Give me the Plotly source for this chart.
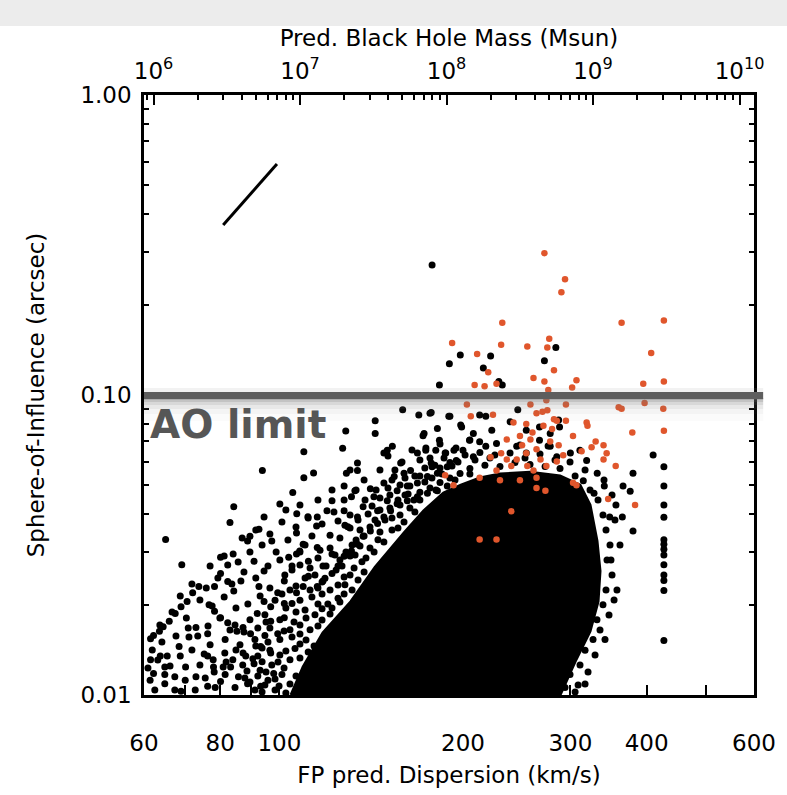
import math
import plotly.graph_objects as go

# ---------------- data ----------------
# black points: FP predicted dispersion (km/s) and sphere-of-influence (arcsec)
black_sigma = [178, 284, 198, 222, 190, 216, 272, 183, 229, 232,
               176.6, 190.4, 199, 213, 218, 246, 223, 208, 239, 254, 287, 205, 213,
               410, 380, 366, 376, 348, 365, 380,
               427, 427, 427, 427, 427, 427, 427, 427, 427, 427, 427, 427, 427,
               187, 200, 208, 218, 227, 245, 254, 267, 278, 285, 300, 311, 319, 332, 341, 328, 315,
               183, 195, 178, 288, 278, 267,
               128.5, 143.6, 143.6, 159.3, 169.3, 177.4, 189.6, 172.0, 109.7, 127.0,
               93.8, 109.7, 113.8, 128.8, 134.3, 105.2, 100.2, 84.2, 83.0, 65.1,
               69.2, 106.8, 111.4, 115.4, 119.7, 115.1, 150.3, 153.2, 148.4, 158.1,
               164.1, 168.4, 173.8, 180.5, 187.4, 193.3, 172.7, 181.6, 198.3, 134.3,
               127.7, 133.0, 131.3, 141.0, 142.9, 148.4, 154.3, 160.1, 156.0, 162.1,
               168.4, 174.9, 181.6, 188.5, 177.4, 127.7, 122.0, 124.8, 129.5, 134.3,
               137.2, 144.9, 150.3, 115.4, 109.4, 106.7, 111.6, 117.9, 122.0, 104.9,
               101.9, 99.4, 96.8, 94.4, 92.0, 90.9, 94.4, 92.6, 88.7, 89.5,
               92.6, 94.4, 97.2, 80.1, 84.0, 82.3, 80.1, 78.3, 82.3, 84.2,
               86.5, 73.8, 72.1, 70.6, 69.0, 67.5, 66.0, 64.5, 63.6, 62.2,
               61.5, 76.7, 78.3, 80.1, 82.3, 85.2, 87.2, 89.7, 76.3, 73.0,
               71.1, 68.5, 65.5, 63.8, 61.5, 62.2, 64.9, 67.4, 64.9, 70.2,
               73.0, 76.3, 78.0, 81.4, 83.2, 80.1, 85.7, 87.2, 90.9, 93.2,
               96.8, 88.7, 93.2, 97.9, 69.0, 76.3, 99.4, 96.8, 101.9, 104.9,
               106.7, 109.4, 111.6, 115.4, 117.9, 122.0, 124.8, 127.7, 131.3, 134.3,
               137.2, 141.0, 144.9, 148.4, 152.2, 156.0, 162.1, 168.4, 174.9, 181.6,
               188.5, 106.7, 108.0, 103.6, 101.9,
               # dense fringe around the core
               98.4, 95.8, 101.0, 93.0, 104.1, 100.2, 106.1, 96.5, 112.3, 108.1,
               114.4, 106.5, 117.5, 124.8, 121.1, 128.1, 118.8, 130.6, 123.9, 136.6,
               133.1, 140.8, 131.6, 145.1, 153.0, 149.0, 157.7, 146.2, 163.7, 166.2,
               160.7, 170.0, 176.6, 183.4, 190.4, 177.9, 197.8,
               205.3, 217.3, 230.0, 243.4, 257.6, 272.7, 288.5, 305.4,
               323.1, 333.0, 339.3, 343.2, 348.4, 344.5, 351.1, 343.2, 339.3, 331.7,
               326.8, 317.1, 311.1, 299.6, 294.0, 355.0, 361.8, 357.7, 341.9,
               61.4, 62.5, 64.9, 67.4, 70.1, 72.8, 75.6, 78.5, 81.5, 84.6,
               87.8, 91.2, 94.7, 74.1, 77.9, 80.9, 83.9, 87.1, 90.5, 93.7,
               97.2, 77.0, 81.5, 86.2, 91.2, 94.7, 100.2, 84.6, 89.5, 94.7,
               100.2, 104.1, 98.4, 104.1, 108.1, 112.3, 102.1, 108.1, 114.4, 116.6,
               123.4, 110.2, 121.1, 128.1, 135.6, 130.6, 138.2, 143.5, 151.8, 157.7,
               166.8, 154.7, 170.0, 179.9, 190.4, 201.6, 213.2,
               # semi-dense zone between the sparse outskirts and the core
               93.7, 99.9, 102.5, 89.5, 92.2, 98.4, 104.1, 88.5, 95.1, 101.8,
               106.5, 92.2, 99.5, 108.1, 93.7, 102.5, 108.1, 111.5, 95.8, 104.9,
               110.6, 114.0, 96.5, 101.8, 108.1, 115.7, 105.7, 110.6, 117.5, 121.1,
               102.5, 110.2, 115.7, 122.0, 125.7, 113.1, 117.5, 120.1, 127.7, 106.5,
               115.7, 124.8, 131.6, 110.2, 117.5, 127.7, 134.6, 112.3, 119.3, 126.7,
               132.6, 137.7, 115.7, 125.7, 130.6, 138.7, 121.1, 128.6, 135.6, 143.0,
               125.7, 133.6, 137.7, 148.4, 130.6, 140.8, 146.2, 156.5, 134.6, 139.8,
               153.0, 160.1, 141.9, 151.8, 157.7, 166.8, 146.2, 156.5, 162.6, 170.0,
               150.7, 163.7, 173.2, 180.6, 160.7, 170.0, 184.8, 194.1, 173.2, 183.4,
               191.9, 205.3, 176.6, 186.2, 196.3, 209.3, 221.4,
               340.6, 351.1, 356.3, 349.7, 353.8, 347.1, 335.5, 329.3, 320.7, 308.9,
               305.4, 317.1,
               # lower-left scatter and upper shoulder
               60.9, 63.2, 66.2, 68.8, 71.9, 75.3, 78.2, 81.8, 84.9, 88.1,
               91.5, 61.9, 64.2, 67.7, 70.9, 73.5, 76.4, 79.9, 83.0, 87.5,
               92.2, 95.1, 63.7, 66.7, 70.4, 74.1, 77.6, 81.2, 84.9, 88.8,
               93.0, 96.5, 101.0, 68.8, 71.9, 75.9, 79.3, 83.6, 87.5, 91.5,
               95.8, 100.2, 104.9, 77.0, 81.2, 85.6, 89.5, 93.7, 98.8, 103.3,
               108.1, 113.1, 86.9, 91.5, 96.5, 101.0, 106.5, 111.5, 117.5, 122.9,
               115.7, 127.7, 133.6, 122.0, 108.1, 102.5, 137.7, 144.1, 130.6, 146.2,
               153.0, 158.9, 165.0, 150.7, 173.9, 183.4, 194.8, 205.3,
               225.6, 238.9, 252.8, 267.5, 283.1, 299.6, 317.1, 248.0, 275.8]
black_soi = [0.271, 0.144, 0.136, 0.135, 0.127, 0.123, 0.130, 0.108, 0.111, 0.108,
             0.0870, 0.0849, 0.0782, 0.0858, 0.0849, 0.0893, 0.0763, 0.0744, 0.0814, 0.0763, 0.0825, 0.0706, 0.0698,
             0.0631, 0.0549, 0.0497, 0.0478, 0.0392, 0.0392, 0.0352,
             0.0577, 0.0497, 0.0430, 0.0391, 0.0329, 0.0318, 0.0306, 0.0293, 0.0272, 0.0251, 0.0241, 0.0223, 0.0152,
             0.0641, 0.0654, 0.0622, 0.0675, 0.0689, 0.0675, 0.0641, 0.0706, 0.0675, 0.0622, 0.0641, 0.0654, 0.0605, 0.0549, 0.0497, 0.0470, 0.0518,
             0.0706, 0.0605, 0.0577, 0.0782, 0.0744, 0.0782,
             0.0758, 0.0820, 0.0744, 0.0893, 0.0858, 0.0874, 0.0849, 0.0731, 0.0647, 0.0664,
             0.0560, 0.0530, 0.0550, 0.0549, 0.0593, 0.0473, 0.0433, 0.0424, 0.0376, 0.0330,
             0.0272, 0.0402, 0.0393, 0.0392, 0.0411, 0.0366, 0.0654, 0.0675, 0.0641, 0.0593,
             0.0560, 0.0641, 0.0654, 0.0654, 0.0641, 0.0654, 0.0744, 0.0774, 0.0794, 0.0560,
             0.0497, 0.0480, 0.0458, 0.0487, 0.0458, 0.0509, 0.0535, 0.0549, 0.0480, 0.0497,
             0.0509, 0.0535, 0.0549, 0.0577, 0.0593, 0.0411, 0.0444, 0.0380, 0.0364, 0.0392,
             0.0424, 0.0411, 0.0444, 0.0310, 0.0318, 0.0295, 0.0279, 0.0269, 0.0295, 0.0269,
             0.0240, 0.0219, 0.0197, 0.0205, 0.0187, 0.0279, 0.0259, 0.0230, 0.0326, 0.0338,
             0.0357, 0.0392, 0.0326, 0.0288, 0.0295, 0.0271, 0.0254, 0.0230, 0.0239, 0.0222,
             0.0240, 0.0230, 0.0219, 0.0205, 0.0197, 0.0187, 0.0176, 0.0169, 0.0163, 0.0158,
             0.0154, 0.0200, 0.0190, 0.0181, 0.0174, 0.0163, 0.0168, 0.0160, 0.0160, 0.0168,
             0.0156, 0.0145, 0.0135, 0.0135, 0.0131, 0.0118, 0.0124, 0.0115, 0.0109, 0.0124,
             0.0115, 0.0135, 0.0124, 0.0138, 0.0124, 0.0111, 0.0115, 0.0138, 0.0127, 0.0145,
             0.0138, 0.0109, 0.0107, 0.0118, 0.0103, 0.0107, 0.0160, 0.0176, 0.0181, 0.0202,
             0.0219, 0.0230, 0.0249, 0.0230, 0.0240, 0.0254, 0.0269, 0.0290, 0.0302, 0.0318,
             0.0338, 0.0352, 0.0373, 0.0392, 0.0411, 0.0434, 0.0444, 0.0458, 0.0470, 0.0480,
             0.0497, 0.0347, 0.0302, 0.0288, 0.0202,
             0.0104, 0.0112, 0.0117, 0.0121, 0.0131, 0.0136, 0.0143, 0.0141, 0.0165, 0.0171,
             0.0185, 0.0189, 0.0194, 0.0210, 0.0224, 0.0233, 0.0245, 0.0251, 0.0261, 0.0278,
             0.0293, 0.0309, 0.0316, 0.0329, 0.0355, 0.0383, 0.0398, 0.0414, 0.0420, 0.0447,
             0.0464, 0.0474, 0.0490, 0.0511, 0.0529, 0.0529, 0.0547,
             0.0569, 0.0583, 0.0578, 0.0596, 0.0587, 0.0578, 0.0569, 0.0537,
             0.0482, 0.0447, 0.0398, 0.0355, 0.0316, 0.0282, 0.0251, 0.0224, 0.0200, 0.0178,
             0.0153, 0.0141, 0.0126, 0.0117, 0.0106, 0.0383, 0.0316, 0.0224, 0.0153,
             0.0112, 0.0104, 0.0117, 0.0104, 0.0112, 0.0104, 0.0114, 0.0106, 0.0117, 0.0106,
             0.0114, 0.0104, 0.0108, 0.0126, 0.0131, 0.0124, 0.0131, 0.0126, 0.0132, 0.0129,
             0.0126, 0.0147, 0.0153, 0.0147, 0.0153, 0.0158, 0.0153, 0.0171, 0.0178, 0.0185,
             0.0178, 0.0165, 0.0207, 0.0224, 0.0207, 0.0224, 0.0251, 0.0271, 0.0251, 0.0304,
             0.0293, 0.0316, 0.0341, 0.0368, 0.0355, 0.0398, 0.0447, 0.0383, 0.0464, 0.0501,
             0.0537, 0.0562, 0.0607, 0.0583, 0.0596, 0.0631, 0.0643,
             0.01023, 0.01072, 0.01015, 0.01105, 0.01157, 0.01131, 0.01088, 0.01203, 0.01194, 0.01231,
             0.01157, 0.01350, 0.01288, 0.01328, 0.01435, 0.01402, 0.01479, 0.01391, 0.01502, 0.01561,
             0.01525, 0.01457, 0.01672, 0.01634, 0.01597, 0.01698, 0.01751, 0.01806, 0.01778, 0.01862,
             0.01950, 0.01920, 0.02010, 0.01950, 0.02041, 0.02121, 0.02171, 0.02010, 0.02171, 0.02309,
             0.02274, 0.02326, 0.02239, 0.02454, 0.02380, 0.02473, 0.02417, 0.02650, 0.02691, 0.02691,
             0.02650, 0.02570, 0.02862, 0.02818, 0.02906, 0.02862, 0.03090, 0.02997, 0.03138, 0.02997,
             0.03337, 0.03286, 0.03388, 0.03236, 0.03603, 0.03631, 0.03494, 0.03603, 0.03831, 0.04011,
             0.03890, 0.03773, 0.04265, 0.04200, 0.04299, 0.04073, 0.04536, 0.04467, 0.04677, 0.04467,
             0.04898, 0.04973, 0.05128, 0.04823, 0.05288, 0.05369, 0.05453, 0.05207, 0.05710, 0.05710,
             0.05798, 0.05453, 0.06166, 0.06166, 0.05979, 0.06072, 0.06166,
             0.05207, 0.04642, 0.04299, 0.02818, 0.02073, 0.01848, 0.01647, 0.01360, 0.01194, 0.01080,
             0.01023, 0.01088,
             0.01231, 0.01308, 0.01249, 0.01350, 0.01413, 0.01370, 0.01194, 0.01288, 0.01413, 0.01350,
             0.01457, 0.01413, 0.01502, 0.01572, 0.01672, 0.01572, 0.01698, 0.01806, 0.01647, 0.01622,
             0.01672, 0.01751, 0.01711, 0.01891, 0.01806, 0.02073, 0.01980, 0.02121, 0.01950, 0.02010,
             0.02138, 0.02274, 0.02171, 0.02138, 0.02344, 0.02274, 0.02454, 0.02344, 0.02570, 0.02454,
             0.02691, 0.02818, 0.02610, 0.02691, 0.02906, 0.02776, 0.02997, 0.03162, 0.02997, 0.03286,
             0.02997, 0.03388, 0.03337, 0.03548, 0.03441, 0.03773, 0.03631, 0.03890, 0.03715, 0.04073,
             0.04467, 0.04467, 0.04823, 0.04823, 0.04299, 0.04136, 0.05207, 0.04823, 0.05623, 0.05623,
             0.05207, 0.05979, 0.06556, 0.06261, 0.06657, 0.06865, 0.06657, 0.07079,
             0.06310, 0.06407, 0.06166, 0.06358, 0.06072, 0.05979, 0.05623, 0.06813, 0.06760]

# outline of the saturated (solid black) core of the distribution
core_sigma = [104.5, 109.4, 117.9, 131.1, 143.6, 160.1, 172.5, 185.9, 198.5, 213.2,
              230.0, 257.6, 288.5, 311.1, 323.1, 331.7, 335.5, 333.0, 323.1, 305.2, 288.5]
core_soi = [0.0100, 0.0124, 0.0161, 0.0205, 0.0267, 0.0347, 0.0411, 0.0471, 0.0501, 0.0529,
            0.0545, 0.0553, 0.0537, 0.0501, 0.0430, 0.0326, 0.0259, 0.0205, 0.0163, 0.0129, 0.0100]

# orange (highlighted) points
orange_sigma = [272, 294, 290, 232, 364, 427, 192, 231, 255, 277, 275, 211, 407, 220, 282, 261,
                272, 307, 302, 209, 217, 227, 395, 427, 276, 203, 258, 274, 295, 360, 364, 397,
                426, 206, 224, 264, 275, 282, 295, 319, 320, 379, 427, 242, 254, 271, 280, 285,
                303, 330, 340, 344, 340, 356, 325, 313, 292, 258, 248, 236, 231, 222, 236, 245,
                254, 264, 268, 274, 261, 227, 230, 213, 187, 193, 248, 264, 264, 273, 303, 307,
                346, 383, 240, 213, 227, 260, 250, 278, 287, 240, 255, 285, 270]
orange_soi = [0.297, 0.243, 0.220, 0.174, 0.174, 0.177, 0.149, 0.147, 0.145, 0.154, 0.144, 0.137,
              0.138, 0.119, 0.121, 0.114, 0.111, 0.112, 0.106, 0.108, 0.107, 0.109, 0.109, 0.111,
              0.104, 0.093, 0.093, 0.096, 0.093, 0.091, 0.090, 0.094, 0.090, 0.085, 0.086, 0.087,
              0.089, 0.083, 0.082, 0.081, 0.079, 0.075, 0.076, 0.081, 0.080, 0.079, 0.077, 0.082,
              0.073, 0.070, 0.068, 0.064, 0.061, 0.058, 0.067, 0.065, 0.063, 0.071, 0.073, 0.071,
              0.064, 0.062, 0.061, 0.061, 0.064, 0.066, 0.061, 0.058, 0.056, 0.056, 0.052, 0.053,
              0.054, 0.050, 0.052, 0.053, 0.049, 0.048, 0.051, 0.050, 0.045, 0.043, 0.041, 0.033,
              0.033, 0.075, 0.068, 0.070, 0.068, 0.058, 0.058, 0.060, 0.088]

# slope indicator segment
slope_sigma = [80.9, 99.1]
slope_soi = [0.369, 0.589]

# axis ticks
x_tickvals = [60, 70, 80, 90, 100, 200, 300, 400, 500, 600]
x_ticktext = ["60", "", "80", "", "100", "200", "300", "400", "", "600"]
y_tickvals = [0.01, 0.1, 1.0]
y_ticktext = ["0.01", "0.10", "1.00"]
y_minor = [0.02, 0.03, 0.04, 0.05, 0.06, 0.07, 0.08, 0.09, 0.2, 0.3, 0.4, 0.5, 0.6, 0.7, 0.8, 0.9]
mass_tickvals = [1e6, 1e7, 1e8, 1e9, 1e10]
mass_ticktext = ["10<sup>6</sup>", "10<sup>7</sup>", "10<sup>8</sup>", "10<sup>9</sup>", "10<sup>10</sup>"]
mass_minor = [m * 10 ** k for k in range(5, 10) for m in range(2, 10)]
mass_range_log = [5.935, 10.099]
ao_limit = 0.10

# ---------------- figure ----------------
FONT = "DejaVu Sans, Liberation Sans, sans-serif"
FS = 23
MS = 7
fig = go.Figure()

fig.add_trace(go.Scatter(x=black_sigma, y=black_soi, mode="markers",
                         marker=dict(color="black", size=MS, line=dict(width=0)),
                         hoverinfo="skip", showlegend=False))
fig.add_trace(go.Scatter(x=core_sigma, y=core_soi, mode="lines", fill="toself",
                         fillcolor="black", line=dict(color="black", width=3),
                         hoverinfo="skip", showlegend=False))
fig.add_trace(go.Scatter(x=orange_sigma, y=orange_soi, mode="markers",
                         marker=dict(color="#e0562c", size=MS - 0.5, line=dict(width=0)),
                         hoverinfo="skip", showlegend=False))
fig.add_trace(go.Scatter(x=slope_sigma, y=slope_soi, mode="lines",
                         line=dict(color="black", width=3),
                         hoverinfo="skip", showlegend=False))
# invisible trace that carries the top (black-hole-mass) axis
fig.add_trace(go.Scatter(x=[1e8], y=[0.5], xaxis="x2", mode="markers",
                         marker=dict(opacity=0), hoverinfo="skip", showlegend=False))

# AO limit band: dark line with soft shadow beneath (paper y of 0.10 on a 0.01-1 log axis)
ao_paper = (math.log10(ao_limit) + 2) / 2.0
px = 1 / 600.0
shadow = [(0.55, 1), (0.40, 3), (0.28, 6), (0.18, 10), (0.10, 15), (0.05, 22)]
for op, d in shadow:
    fig.add_shape(type="rect", xref="paper", yref="paper", x0=0.0, x1=1.015,
                  y0=ao_paper - 4 * px - d * px, y1=ao_paper - 3 * px,
                  fillcolor="rgba(120,120,120,%.2f)" % (op * 0.5), line=dict(width=0), layer="above")
fig.add_shape(type="rect", xref="paper", yref="paper", x0=0.0, x1=1.015,
              y0=ao_paper + 3 * px, y1=ao_paper + 7 * px,
              fillcolor="rgba(150,150,150,0.12)", line=dict(width=0), layer="above")
fig.add_shape(type="rect", xref="paper", yref="paper", x0=0.0, x1=1.015,
              y0=ao_paper - 4 * px, y1=ao_paper + 3 * px,
              fillcolor="#5e5e5e", line=dict(width=0), layer="above")

fig.add_annotation(text="<b>AO limit</b>", xref="paper", yref="paper",
                   x=0.006, y=ao_paper - 29 * px, xanchor="left", yanchor="middle",
                   showarrow=False, font=dict(family="DejaVu Sans, sans-serif", size=39,
                                              color="#565656"))

axis_common = dict(showline=True, linecolor="black", linewidth=2.5, ticks="inside",
                   tickcolor="black", tickwidth=2, ticklen=10, showgrid=False, zeroline=False,
                   tickfont=dict(family=FONT, size=FS, color="black"))

fig.update_layout(
    width=787, height=795,
    margin=dict(l=144, r=33, t=95, b=100),
    paper_bgcolor="white", plot_bgcolor="white",
    xaxis=dict(type="log", range=[math.log10(60), math.log10(600)],
               tickmode="array", tickvals=x_tickvals, ticktext=x_ticktext,
               mirror=False, ticklabelstandoff=26,
               title=dict(text="FP pred. Dispersion (km/s)", font=dict(family=FONT, size=FS, color="black"),
                          standoff=12),
               **axis_common),
    xaxis2=dict(type="log", range=mass_range_log, overlaying="x", side="top", anchor="y",
                tickmode="array", tickvals=mass_tickvals, ticktext=mass_ticktext,
                minor=dict(tickvals=mass_minor, ticks="inside", ticklen=5, tickcolor="black", tickwidth=2),
                ticklabelstandoff=4,
                title=dict(text="Pred. Black Hole Mass (Msun)", font=dict(family=FONT, size=FS, color="black"),
                           standoff=2),
                **axis_common),
    yaxis=dict(type="log", range=[-2, 0], tickmode="array", tickvals=y_tickvals, ticktext=y_ticktext,
               mirror="ticks", ticklabelstandoff=5,
               minor=dict(tickvals=y_minor, ticks="inside", ticklen=5, tickcolor="black", tickwidth=2),
               title=dict(text="Sphere-of-Influence (arcsec)", font=dict(family=FONT, size=FS, color="black"),
                          standoff=30),
               **axis_common),
)

# light grey strip at the very top of the slide
fig.add_shape(type="rect", xref="paper", yref="paper", x0=-0.3, x1=1.1,
              y0=1 + (95 - 26) * px, y1=1 + 96 * px, fillcolor="#ececec", line=dict(width=0), layer="below")

fig.write_html("out.html")
